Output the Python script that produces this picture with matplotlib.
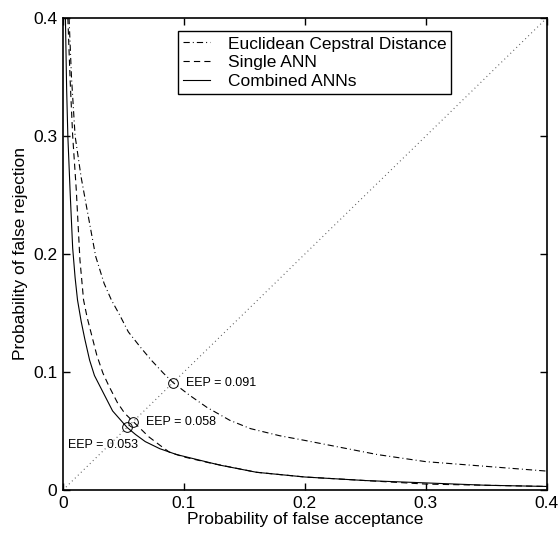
import numpy as np
import matplotlib
matplotlib.use('Agg')
import matplotlib.pyplot as plt

plt.rcParams['font.family'] = ['Liberation Sans', 'DejaVu Sans']
plt.rcParams['lines.scale_dashes'] = False

# ---- data ----
combined_x = [0.002, 0.003, 0.004, 0.006, 0.008, 0.010, 0.012, 0.015, 0.018, 0.022, 0.026,
              0.031, 0.036, 0.041, 0.047, 0.053, 0.060, 0.068, 0.080, 0.094, 0.110, 0.130,
              0.160, 0.200, 0.250, 0.300, 0.350, 0.400]
combined_y = [0.400, 0.340, 0.300, 0.250, 0.205, 0.180, 0.161, 0.143, 0.128, 0.110, 0.097,
              0.087, 0.077, 0.067, 0.060, 0.053, 0.047, 0.041, 0.035, 0.030, 0.026, 0.021,
              0.015, 0.011, 0.008, 0.006, 0.004, 0.003]

single_x = [0.004, 0.006, 0.008, 0.011, 0.014, 0.017, 0.020, 0.024, 0.028, 0.033, 0.038,
            0.045, 0.051, 0.058, 0.064, 0.071, 0.080, 0.088, 0.100, 0.121, 0.160, 0.200,
            0.250, 0.300, 0.350, 0.400]
single_y = [0.400, 0.345, 0.300, 0.254, 0.195, 0.161, 0.146, 0.130, 0.114, 0.099, 0.088,
            0.074, 0.065, 0.058, 0.052, 0.045, 0.038, 0.032, 0.028, 0.023, 0.015, 0.011,
            0.008, 0.005, 0.004, 0.003]

eucl_x = [0.005, 0.007, 0.010, 0.015, 0.020, 0.027, 0.034, 0.040, 0.047, 0.054, 0.064,
          0.073, 0.083, 0.091, 0.105, 0.119, 0.138, 0.155, 0.179, 0.200, 0.230, 0.260,
          0.300, 0.350, 0.400]
eucl_y = [0.400, 0.350, 0.300, 0.265, 0.237, 0.198, 0.175, 0.161, 0.148, 0.134, 0.121,
          0.110, 0.099, 0.091, 0.080, 0.070, 0.059, 0.052, 0.046, 0.042, 0.036, 0.030,
          0.024, 0.020, 0.016]

eep_values = [0.091, 0.058, 0.053]
eep_labels = ['EEP = 0.091', 'EEP = 0.058', 'EEP = 0.053']
eep_text_pos = [(0.102, 0.091), (0.069, 0.058), (0.004, 0.038)]

# ---- figure ----
fig = plt.figure(figsize=(5.6, 5.33), dpi=100, facecolor='w')
ax = fig.add_axes([0.1125, 0.0807, 0.864, 0.8856])

ax.plot([0, 0.4], [0, 0.4], color='0.35', linewidth=0.8, dashes=(0.7, 2.3))
ax.plot(eucl_x, eucl_y, 'k', linewidth=0.8, dashes=(4.5, 2.2, 0.7, 2.2),
        label='Euclidean Cepstral Distance')
ax.plot(single_x, single_y, 'k', linewidth=0.8, dashes=(4.5, 3.0), label='Single ANN')
ax.plot(combined_x, combined_y, 'k-', linewidth=0.8, label='Combined ANNs')

ax.plot(eep_values, eep_values, 'o', markersize=7, markerfacecolor='none',
        markeredgecolor='k', markeredgewidth=0.7, linestyle='none')
for lab, (tx, ty) in zip(eep_labels, eep_text_pos):
    ax.text(tx, ty, lab, fontsize=9, va='center', ha='left')

ax.set_xlim(0, 0.4)
ax.set_ylim(0, 0.4)
ticks = [0, 0.1, 0.2, 0.3, 0.4]
ax.set_xticks(ticks)
ax.set_yticks(ticks)
ax.set_xticklabels(['0', '0.1', '0.2', '0.3', '0.4'])
ax.set_yticklabels(['0', '0.1', '0.2', '0.3', '0.4'])
ax.tick_params(direction='in', top=True, right=True, length=5, width=1,
               labelsize=12.5, pad=4)
for s in ax.spines.values():
    s.set_linewidth(1.2)

ax.set_xlabel('Probability of false acceptance', fontsize=12.5, labelpad=1)
ax.set_ylabel('Probability of false rejection', fontsize=12.5, labelpad=4)

leg = ax.legend(loc='upper left', bbox_to_anchor=(0.238, 0.972), fontsize=12.5,
                frameon=True, fancybox=False, edgecolor='k', framealpha=1,
                handlelength=1.55, borderpad=0.3, labelspacing=0.2,
                handletextpad=1.0, borderaxespad=0)
leg.get_frame().set_linewidth(1.0)

fig.savefig('out.png', dpi=100)
